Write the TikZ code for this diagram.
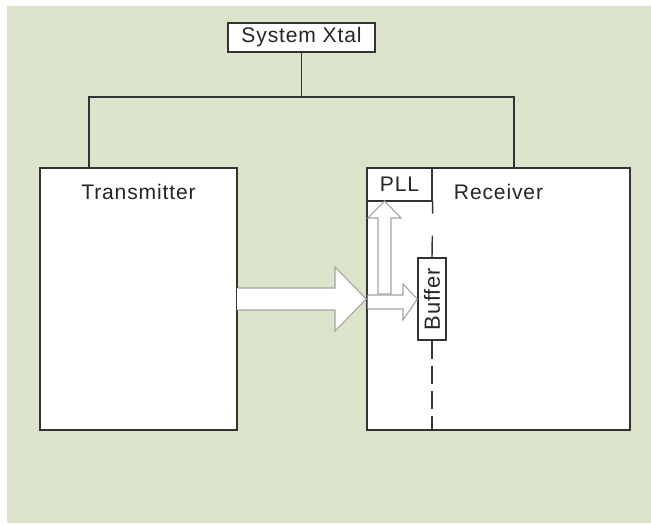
\documentclass[tikz,border=0pt]{standalone}
\usepackage{fontspec}
\setmainfont[LetterSpace=4]{Liberation Sans}
\usepackage{xcolor}
\usepackage{tikz}
\usetikzlibrary{positioning}

\definecolor{bgGreen}{HTML}{DCE3CB}
\definecolor{lineGray}{HTML}{333333}
\definecolor{arrGray}{HTML}{A3A3A3}

\begin{document}
\begin{tikzpicture}[
  x=0.02cm, y=-0.02cm,
  box/.style={draw=lineGray, line width=0.8pt, fill=white, inner sep=0pt, text=black!85, font=\fontsize{12}{14}\selectfont},
  wide/.style={-, arrGray, line width=0.6pt},
  dashline/.style={draw=lineGray, line width=0.8pt}
]
\useasboundingbox (0,0) rectangle (651,523);
\fill[bgGreen] (7,6) rectangle (651,523);

% blocks
\node[box, minimum width=2.94cm, minimum height=0.58cm] (xtal) at (301.5,37.5) {System Xtal};
\node[box, minimum width=3.94cm, minimum height=5.24cm,
      label={[anchor=north, yshift=-0.22cm, text=black!85, font=\fontsize{12}{14}\selectfont]north:Transmitter}] (tx) at (138.5,299) {};
\node[box, minimum width=5.26cm, minimum height=5.24cm,
      label={[anchor=north, yshift=-0.22cm, text=black!85, font=\fontsize{12}{14}\selectfont]north:Receiver}] (rx) at (498.5,299) {};
\node[box, minimum width=1.3cm, minimum height=0.66cm] (pll) at (399.5,184.5) {PLL};
\node[box, minimum width=0.56cm, minimum height=1.64cm, font=\fontsize{12.5}{14}\selectfont] (buf) at (432,299) {\rotatebox{90}{Buffer}};

% clock lines
\coordinate (bus) at (301.5,97);
\draw[lineGray, line width=0.8pt] (xtal) -- (bus);
\draw[lineGray, line width=0.8pt] ([xshift=-0.99cm]tx.north) |- (bus) -| ([xshift=0.31cm]rx.north);

% receiver split line
\draw[dashline, dash pattern=on 0.24cm off 0.44cm on 0.44cm off 0cm] (pll.south east) -- (buf.north);
\draw[dashline, dash pattern=on 0.36cm off 0.14cm, dash phase=0.5cm] (buf.south) -- (buf.south |- rx.south);

% data arrows
\fill[white] (237,288) -- (335,288) -- (335,267) -- (366,299) -- (335,331) -- (335,310) -- (237,310) -- cycle;
\draw[wide] (237.5,288) -- (335,288) -- (335,267) -- (rx.west) -- (335,331) -- (335,310) -- (237.5,310);
\draw[wide, fill=white] (367.5,295) -- (403,295) -- (403,284) -- (buf.west) -- (403,320) -- (403,309) -- (367.5,309);
\draw[wide, fill=white] (378,294) -- (378,218) -- (368,218) -- (384.5,201) -- (401,218) -- (391,218) -- (391,294) -- cycle;
\end{tikzpicture}
\end{document}
